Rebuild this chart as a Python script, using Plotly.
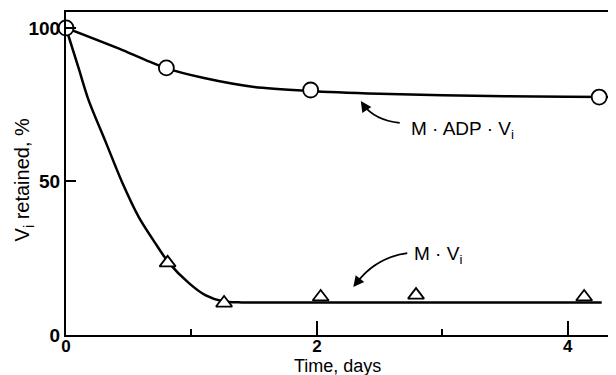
import plotly.graph_objects as go

# Measured points
adp_x = [0, 0.8, 1.95, 4.25]
adp_y = [100, 87, 79.8, 77.5]
mv_x = [0.81, 1.26, 2.03, 2.79, 4.13]
mv_y = [23.5, 10.4, 12.4, 13.0, 12.4]

# Fitted curves
adp_curve_x = [0, 0.45, 0.79, 1.1, 1.5, 1.94, 2.5, 3.0, 3.5, 4.0, 4.39]
adp_curve_y = [100, 92.8, 87, 83.7, 80.8, 79.5, 78.6, 78.1, 77.8, 77.6, 77.5]
mv_curve_x = [0, 0.1, 0.18, 0.32, 0.45, 0.58, 0.71, 0.82, 0.98, 1.11, 1.25, 1.4, 2.0, 3.0, 4.27]
mv_curve_y = [100, 87, 76.5, 62.5, 49.5, 38.4, 30, 23.5, 16.9, 13, 11.0, 10.6, 10.6, 10.6, 10.6]

x_ticks = [0, 2, 4]
y_ticks = [0, 50, 100]

font = "Liberation Sans, Arial, sans-serif"

fig = go.Figure()
fig.add_trace(go.Scatter(x=adp_curve_x, y=adp_curve_y, mode="lines",
                         line=dict(color="black", width=2.5, shape="spline", smoothing=0.8),
                         hoverinfo="skip", showlegend=False, cliponaxis=False))
fig.add_trace(go.Scatter(x=mv_curve_x, y=mv_curve_y, mode="lines",
                         line=dict(color="black", width=2.5, shape="spline", smoothing=0.8),
                         hoverinfo="skip", showlegend=False))
fig.add_trace(go.Scatter(x=adp_x, y=adp_y, mode="markers",
                         marker=dict(symbol="circle", size=15, color="white",
                                     line=dict(color="black", width=1.8)),
                         showlegend=False, cliponaxis=False))
fig.add_trace(go.Scatter(x=mv_x, y=mv_y, mode="markers",
                         marker=dict(symbol="triangle-up", size=14, color="white",
                                     line=dict(color="black", width=1.8)),
                         showlegend=False, cliponaxis=False))

# curved arrows
fig.add_shape(type="path", xref="x", yref="y",
              path="M 2.66,69.1 Q 2.46,70.0 2.37,75.0",
              line=dict(color="black", width=1.8))
fig.add_annotation(x=2.35, y=76.2, xref="x", yref="y", ax=6, ay=9, text="",
                   showarrow=True, arrowhead=2, arrowsize=1.2, arrowwidth=1.8,
                   arrowcolor="black")
fig.add_shape(type="path", xref="x", yref="y",
              path="M 2.72,26.7 Q 2.46,25.1 2.31,16.6",
              line=dict(color="black", width=1.8))
fig.add_annotation(x=2.29, y=15.6, xref="x", yref="y", ax=7, ay=-9, text="",
                   showarrow=True, arrowhead=2, arrowsize=1.2, arrowwidth=1.8,
                   arrowcolor="black")

fig.add_annotation(x=2.73, y=66.8, xref="x", yref="y", xanchor="left", yanchor="middle",
                   text="M · ADP · V<sub>i</sub>", showarrow=False,
                   font=dict(family=font, size=19, color="black"))
fig.add_annotation(x=2.76, y=26.2, xref="x", yref="y", xanchor="left", yanchor="middle",
                   text="M · V<sub>i</sub>", showarrow=False,
                   font=dict(family=font, size=19, color="black"))

# axis titles placed as paper annotations
fig.add_annotation(x=0.497, y=-0.058, xref="paper", yref="paper", xanchor="center", yanchor="top",
                   text="Time, days", showarrow=False,
                   font=dict(family=font, size=18, color="black"))
fig.add_annotation(x=-0.076, y=0.48, xref="paper", yref="paper", xanchor="center", yanchor="middle",
                   text="V<sub>i</sub> retained, %", showarrow=False, textangle=-90,
                   font=dict(family=font, size=20, color="black"))

fig.update_xaxes(range=[0, 4.36], tickvals=x_ticks, ticktext=[str(v) for v in x_ticks],
                 ticks="inside", ticklen=14, tickwidth=2, tickcolor="black",
                 minor=dict(dtick=1, ticks="inside", ticklen=6, tickwidth=2, tickcolor="black"),
                 showline=True, linecolor="black", linewidth=2, mirror=True,
                 showgrid=False, zeroline=False, automargin=False, ticklabelstandoff=-5,
                 tickfont=dict(family=font, size=17, color="black", weight="bold"))
fig.update_yaxes(range=[0, 105.2], tickvals=y_ticks, ticktext=[str(v) for v in y_ticks],
                 ticks="inside", ticklen=10, tickwidth=2, tickcolor="black",
                 showline=True, linecolor="black", linewidth=2, mirror=True,
                 showgrid=False, zeroline=False, automargin=False, ticklabelstandoff=0,
                 tickfont=dict(family=font, size=19, color="black", weight="bold"))

# page body has an 8px margin, so the figure is 8px smaller and margins shifted
fig.update_layout(width=608, height=367, margin=dict(l=58, r=3, t=4, b=40, autoexpand=False),
                  plot_bgcolor="white", paper_bgcolor="white")

fig.write_html("out.html")
